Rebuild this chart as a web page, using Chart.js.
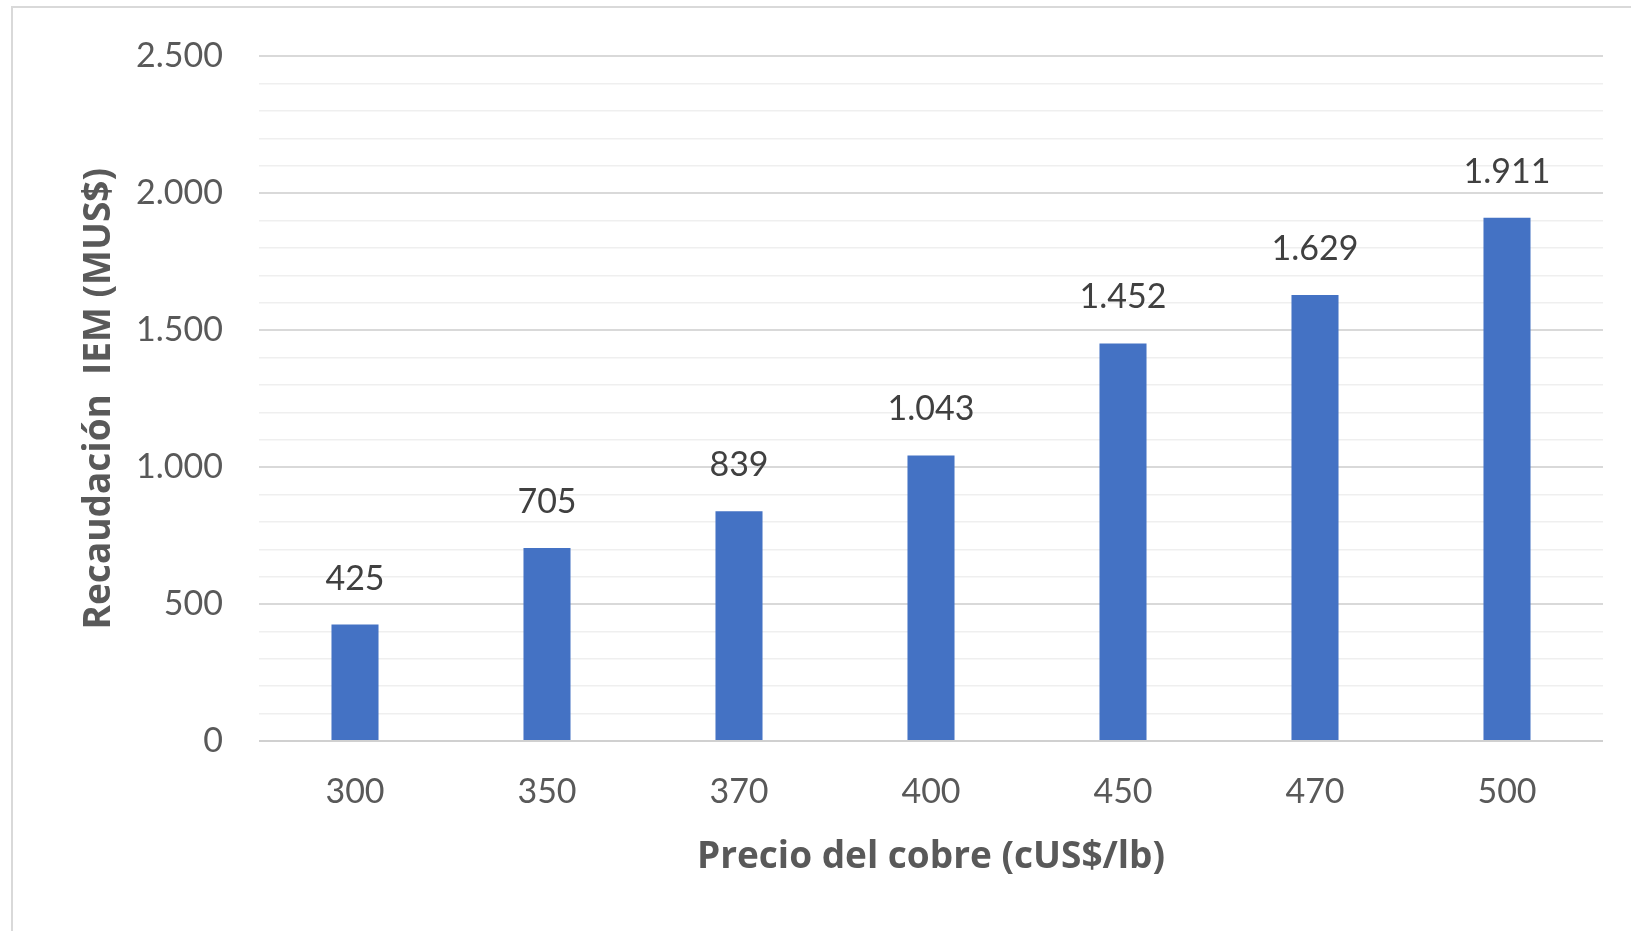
<!DOCTYPE html>
<html>
<head>
<meta charset="utf-8">
<script src="https://cdn.jsdelivr.net/npm/chart.js@4/dist/chart.umd.min.js"></script>
<style>
  html, body { margin: 0; padding: 0; background: #ffffff; width: 1631px; height: 931px; overflow: hidden; }
  #frame { position: absolute; left: 11px; top: 6px; width: 1620px; height: 925px;
           border-top: 2px solid #d9d9d9; border-left: 2px solid #d9d9d9; box-sizing: border-box; }
  #c { position: absolute; left: 0; top: 0; }
</style>
</head>
<body>
<div id="frame"></div>
<canvas id="c" width="1631" height="931"></canvas>
<script>
const categories = ["300", "350", "370", "400", "450", "470", "500"];
const recaudacion = [425, 705, 839, 1043, 1452, 1629, 1911];
const yTickLabels = ["0", "500", "1.000", "1.500", "2.000", "2.500"];
const xTitle = "Precio del cobre (cUS$/lb)";
const yTitle = "Recaudación  IEM (MUS$)";

function fmt(v) {
  return String(Math.round(v)).replace(/\B(?=(\d{3})+(?!\d))/g, ".");
}

const FONT = "Lato, 'Open Sans', sans-serif";
const TITLE_FONT = "'Open Sans', Lato, sans-serif";

const dataLabels = {
  id: "dataLabels",
  afterDatasetsDraw(chart) {
    const ctx = chart.ctx;
    const meta = chart.getDatasetMeta(0);
    ctx.save();
    ctx.font = "34px " + FONT;
    ctx.fillStyle = "#404040";
    ctx.textAlign = "center";
    ctx.textBaseline = "middle";
    meta.data.forEach((el, i) => {
      ctx.fillText(fmt(chart.data.datasets[0].data[i]), el.x, el.y - 46);
    });
    ctx.restore();
  }
};

new Chart(document.getElementById("c"), {
  type: "bar",
  data: {
    labels: categories,
    datasets: [{
      data: recaudacion,
      backgroundColor: "#4472C4",
      borderWidth: 0,
      categoryPercentage: 1,
      barPercentage: 0.245
    }]
  },
  options: {
    responsive: false,
    animation: false,
    devicePixelRatio: 1,
    layout: { padding: { top: 52, right: 28, bottom: 0, left: 0 } },
    plugins: { legend: { display: false }, tooltip: { enabled: false } },
    scales: {
      x: {
        afterFit(scale) { scale.height = 190; },
        grid: { display: false },
        border: { display: false },
        ticks: { color: "#595959", font: { family: FONT, size: 34 }, padding: 23 },
        title: {
          display: true, text: xTitle, color: "#595959",
          font: { family: TITLE_FONT, size: 37, weight: "bold" },
          padding: { top: 0, bottom: 51 }
        }
      },
      y: {
        min: 0, max: 2500,
        afterFit(scale) { scale.width = 259; },
        border: { display: false },
        grid: {
          drawTicks: false,
          color(ctx) {
            const v = ctx.tick ? ctx.tick.value : 0;
            if (v === 0) return "#d0d0d0";
            return v % 500 === 0 ? "#d9d9d9" : "#efefef";
          },
          lineWidth(ctx) {
            const v = ctx.tick ? ctx.tick.value : 0;
            return v % 500 === 0 ? 2 : 1.5;
          }
        },
        ticks: {
          stepSize: 100,
          autoSkip: false,
          padding: 36,
          color: "#595959",
          font: { family: FONT, size: 34 },
          callback(v) {
            if (v % 500 !== 0) return "";
            return yTickLabels[v / 500];
          }
        },
        title: {
          display: true, text: yTitle, color: "#595959",
          font: { family: TITLE_FONT, size: 37, weight: "bold" },
          padding: { top: 77, bottom: 0 }
        }
      }
    }
  },
  plugins: [dataLabels]
});
</script>
</body>
</html>
